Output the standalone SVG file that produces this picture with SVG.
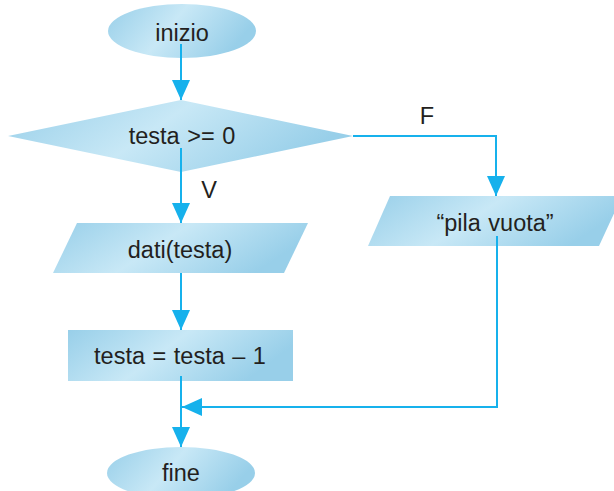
<svg xmlns="http://www.w3.org/2000/svg" width="614" height="491" viewBox="0 0 614 491">
<defs>
<linearGradient id="g" x1="0" y1="0" x2="1" y2="0.3">
<stop offset="0" stop-color="#98cfe9"/>
<stop offset="0.5" stop-color="#c8e8f6"/>
<stop offset="1" stop-color="#98cfe9"/>
</linearGradient>
<marker id="arr" markerUnits="userSpaceOnUse" markerWidth="20" markerHeight="20" viewBox="0 0 20 18" refX="20" refY="9" orient="auto">
<path d="M0,0 L20,9 L0,18 Z" fill="#16b1ec"/>
</marker>
</defs>
<style>
.s{fill:url(#g);stroke:none}
.t{font-family:"Liberation Sans",Arial,sans-serif;font-size:23.5px;fill:#231f20;text-anchor:middle;word-spacing:1px}
.c{fill:none;stroke:#16b1ec;stroke-width:2}
</style>
<g id="inizio"><ellipse class="s" cx="182" cy="31" rx="74" ry="27"/><text class="t" x="182" y="41">inizio</text></g>
<g id="test"><polygon class="s" points="8,136 181,100 353,136 181,172"/><text class="t" x="182" y="144">testa &gt;= 0</text></g>
<g id="dati"><polygon class="s" points="77,223 308,223 284,273 53,273"/><text class="t" x="180" y="258">dati(testa)</text></g>
<g id="pila"><polygon class="s" points="390,196 622,196 599,246 368,246"/><text class="t" x="495" y="231">“pila vuota”</text></g>
<g id="decr"><rect class="s" x="68" y="330" width="225" height="51"/><text class="t" x="180" y="364">testa = testa – 1</text></g>
<g id="fine"><ellipse class="s" cx="181" cy="473" rx="74" ry="26"/><text class="t" x="181" y="481">fine</text></g>
<g id="connectors">
<path class="c" d="M181,44 V100" marker-end="url(#arr)"/>
<path class="c" d="M181,148 V223" marker-end="url(#arr)"/>
<path class="c" d="M353,136 H496 V196" marker-end="url(#arr)"/>
<path class="c" d="M181,273 V330" marker-end="url(#arr)"/>
<path class="c" d="M181,376 V447" marker-end="url(#arr)"/>
<path class="c" d="M497,236 V407 H182" marker-end="url(#arr)"/>
<text class="t" x="427" y="124">F</text>
<text class="t" x="209" y="198">V</text>
</g>
</svg>
